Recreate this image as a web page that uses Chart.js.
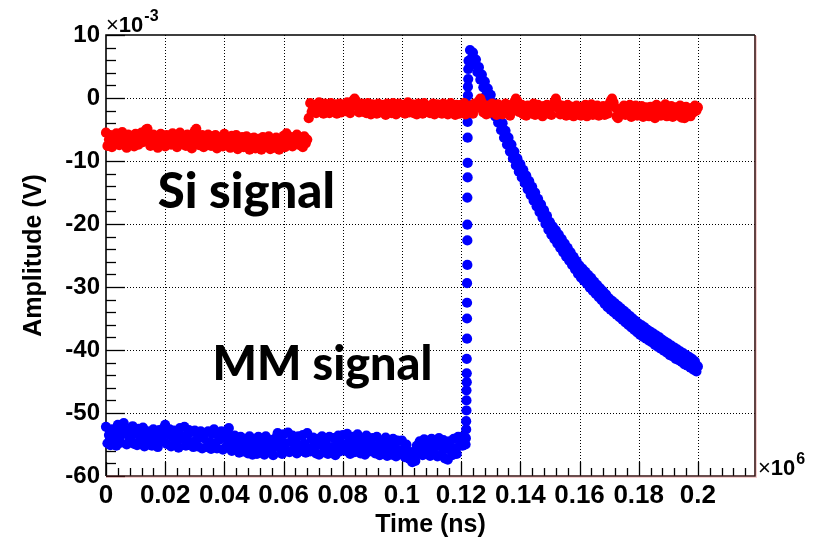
<!DOCTYPE html>
<html><head><meta charset="utf-8">
<script src="https://cdn.jsdelivr.net/npm/chart.js@4.4.1/dist/chart.umd.min.js"></script>
<style>html,body{margin:0;padding:0;background:#fff;}canvas{display:block;}</style>
</head><body>
<canvas id="c" width="817" height="539"></canvas>
<script>
// ---- data (time in units of 10^6 ns, amplitude in units of 10^-3 V) ----
const SAMPLE_STEP = 0.0005;

// Si signal, sampled from t = 0 to 0.2
const siStart = 0;
const siValues = [
-5.5,-7.6,-6.6,-5.9,-7.8,-6.3,-7.1,-5.6,-6.9,-7.5,
-6.1,-5.4,-7.3,-6.7,-7.9,-5.8,-6.4,-7.2,-6.0,-7.7,
-5.7,-6.8,-7.4,-6.2,-5.5,-7.0,-6.5,-5.0,-4.9,-6.3,
-7.6,-6.1,-5.8,-7.2,-6.6,-7.9,-6.0,-5.7,-7.0,-6.4,
-7.7,-5.9,-6.8,-6.2,-7.4,-5.6,-7.1,-6.5,-7.8,-6.0,
-5.5,-7.3,-6.7,-6.1,-7.6,-5.8,-7.0,-6.4,-8.0,-6.9,
-5.2,-4.9,-6.2,-7.5,-6.6,-5.9,-7.8,-6.3,-7.2,-5.8,
-6.8,-7.6,-6.1,-7.0,-5.9,-8.0,-6.5,-7.3,-6.2,-7.7,
-5.7,-6.9,-7.5,-6.3,-7.9,-6.0,-6.7,-7.2,-5.9,-8.1,
-6.6,-7.4,-6.2,-7.8,-6.9,-6.1,-7.5,-8.2,-6.4,-7.0,
-6.3,-8.0,-7.2,-6.5,-7.6,-8.2,-6.2,-7.0,-6.8,-7.7,
-6.1,-8.1,-7.3,-6.6,-7.9,-6.3,-7.1,-8.2,-6.7,-7.5,
-6.0,-7.8,-5.6,-6.9,-7.4,-6.2,-7.7,-6.5,-7.1,-5.8,
-6.8,-7.5,-6.3,-7.8,-6.1,-7.2,-6.6,
-3.2,
-0.8,-2.2,-1.5,-1.1,-2.4,-1.7,-0.7,-2.0,-1.3,-2.5,-0.9,-1.8,-1.2,-2.4,-0.8,-1.6,-2.1,-1.0,-2.5,-1.4,
-0.9,-2.3,-1.6,-1.1,-2.1,-0.7,-1.8,-2.4,-1.2,-0.4,-0.1,-0.5,-1.4,-2.3,-1.7,-0.9,-2.2,-1.3,-2.4,-0.8,
-1.7,-2.6,-1.0,-2.0,-1.4,-2.5,-0.9,-1.8,-2.3,-1.1,-1.6,-2.7,-0.9,-2.0,-1.3,-2.4,-0.8,-1.9,-2.6,-1.2,
-0.9,-2.2,-1.6,-1.1,-2.5,-1.4,-0.7,-2.3,-1.8,-1.0,-2.4,-1.5,-2.6,-0.9,-2.0,-1.3,-2.5,-0.8,-1.7,-2.2,
-1.3,-2.4,-1.8,-0.9,-2.6,-1.5,-1.0,-2.2,-1.7,-2.5,-0.9,-1.9,-1.2,-2.6,-1.6,-0.8,-2.4,-1.4,-2.7,-1.1,
-1.8,-2.5,-1.1,-2.0,-0.8,-2.6,-1.5,-2.3,-1.2,-1.9,-2.5,-0.9,-1.6,-1.3,-0.5,-0.1,-0.7,-2.3,-1.6,-2.6,
-1.2,-2.4,-1.7,-0.9,-2.2,-1.5,-2.7,-1.0,-2.0,-1.4,-2.6,-1.8,-0.9,-2.4,-1.5,-2.8,-1.1,-2.0,-0.6,-0.1,
-0.5,-2.2,-1.6,-1.1,-2.6,-1.9,-2.8,-1.2,-2.0,-1.5,-2.5,-0.9,-2.7,-1.7,-1.1,-2.3,-1.6,-2.9,-1.3,-2.1,
-1.1,-2.5,-1.8,-2.7,-1.3,-0.6,-0.1,-0.8,-1.7,-2.6,-1.2,-2.2,-1.5,-2.8,-1.1,-2.0,-2.7,-1.4,-2.9,-1.8,
-1.2,-2.6,-1.9,-2.8,-1.4,-2.2,-1.1,-2.9,-1.7,-2.4,-1.0,-2.7,-1.6,-2.2,-1.2,-2.8,-1.9,-2.5,-1.3,-2.7,
-1.6,-2.5,-1.0,-0.5,-0.1,-0.7,-1.5,-2.9,-3.2,-2.6,-1.8,-2.3,-1.2,-2.7,-1.6,-2.1,-1.1,-3.0,-1.9,-2.5,
-1.2,-2.8,-1.8,-2.4,-1.3,-3.0,-2.0,-1.5,-2.6,-2.9,-1.4,-2.2,-1.7,-3.2,-1.1,-2.5,-1.9,-2.8,-1.4,-2.3,
-1.0,-2.9,-1.8,-2.4,-1.3,-3.0,-2.1,-1.5,-2.6,-2.8,-1.2,-3.1,-1.9,-3.2,-1.4,-2.5,-2.0,-2.9,-1.6,-2.3,
-1.2,-2.0,-1.5
];

// MM signal: baseline before the pulse, sampled from t = 0
const mmBaseStart = 0;
const mmBaseValues = [
-52.2,-54.8,-53.5,-55.1,-52.6,-54.1,-53.0,-55.2,-51.9,-53.8,-54.7,-52.4,-51.6,-53.3,-55.0,-52.8,-54.4,-53.6,-52.1,-54.9,
-53.2,-55.1,-52.5,-54.2,-53.7,-52.3,-55.3,-53.9,-52.9,-54.6,-53.4,-55.2,-52.6,-54.0,-53.1,-55.4,-52.7,-54.5,-53.6,-52.4,
-51.9,-54.9,-53.4,-52.6,-55.3,-53.8,-52.8,-54.5,-53.2,-55.5,-52.4,-54.1,-53.7,-52.2,-55.2,-53.5,-52.7,-54.6,-53.0,-55.4,
-52.8,-54.3,-55.3,-53.5,-52.9,-55.6,-54.0,-53.2,-55.4,-52.9,-54.6,-55.7,-53.3,-52.6,-54.8,-55.6,-53.6,-54.2,-52.9,-55.8,
-53.0,-55.4,-54.2,-52.4,-53.8,-56.0,-54.7,-53.6,-55.8,-54.3,-56.3,-53.8,-55.1,-56.1,-54.2,-55.5,-56.4,-53.7,-55.0,-56.6,
-54.2,-55.6,-56.5,-53.8,-55.1,-56.3,-54.4,-56.6,-53.7,-55.3,-56.2,-54.3,-55.8,-56.7,-54.1,-55.0,-53.2,-54.6,-55.7,-56.5,
-53.4,-54.8,-55.9,-53.1,-56.2,-54.6,-53.6,-55.8,-54.5,-56.4,-53.7,-55.2,-56.0,-53.5,-54.9,-56.3,-53.2,-55.6,-56.1,-54.2,
-53.9,-55.3,-56.4,-54.1,-56.6,-55.0,-53.7,-56.2,-54.6,-55.8,-56.5,-53.8,-55.4,-56.3,-54.0,-56.7,-55.1,-53.6,-56.1,-54.8,
-53.5,-55.2,-56.0,-53.3,-54.7,-56.5,-55.4,-53.8,-56.2,-54.6,-53.4,-55.9,-56.4,-54.2,-55.5,-56.6,-53.6,-55.0,-56.1,-54.3,
-54.0,-55.6,-56.4,-53.8,-55.2,-56.7,-54.5,-56.5,-55.1,-53.9,-56.8,-54.7,-55.8,-56.6,-54.1,-55.4,-56.9,-54.4,-55.9,-56.5,
-54.4,-55.8,-57.0,-55.0,-56.4,-57.3,-56.2,-57.8,-56.9,-57.6,-55.2,-56.4,-54.5,-55.9,-56.7,-54.2,-55.5,-56.4,-54.6,-56.8,
-54.1,-55.7,-56.5,-54.4,-56.9,-54.0,-55.3,-56.6,-54.3,-57.2,-55.6,-57.4,-54.5,-55.9,-56.7,-54.1,-55.6,-56.5,-53.8,-55.2,
-53.8,-55.2,-54.5,-55.0
];

// MM signal: fast rising edge
const mmRiseTimes = [0.1216,0.1217,0.1217,0.1218,0.1218,0.1218,0.1219,0.1219,0.1219,0.1220,0.1220,0.1220,0.1220,0.1221,0.1221,0.1221,0.1221,0.1222,0.1222,0.1222,0.1222,0.1223,0.1223,0.1223,0.1224,0.1224];
const mmRiseValues = [-54.0,-52.6,-51.3,-49.6,-48.0,-46.4,-45.1,-43.7,-41.4,-38.2,-35.0,-32.5,-29.4,-26.5,-22.6,-20.1,-15.8,-12.6,-10.3,-6.3,-3.8,-1.0,0.4,1.8,3.0,4.6];

// MM signal: peak and slow decay, sampled from t = 0.1225
const mmDecayStart = 0.1225;
const mmDecayValues = [
5.9,7.6,6.3,7.2,5.3,6.1,4.1,4.9,2.9,3.7,
1.7,2.6,0.5,1.5,-0.6,0.5,-1.7,-0.8,-2.9,-1.8,
-3.9,-2.9,-5.1,-4.0,-6.3,-5.2,-7.4,-6.3,-8.5,-7.4,
-9.6,-8.5,-10.7,-9.6,-11.7,-10.5,-12.6,-11.4,-13.5,-12.3,
-14.5,-13.2,-15.4,-14.1,-16.3,-15.0,-17.2,-16.0,-18.1,-16.9,
-19.0,-17.8,-20.0,-18.7,-20.9,-19.7,-21.7,-20.4,-22.4,-21.0,
-23.1,-21.7,-23.8,-22.4,-24.5,-23.1,-25.2,-23.8,-25.8,-24.5,
-26.5,-25.2,-27.2,-25.9,-27.9,-26.6,-28.5,-27.1,-29.0,-27.6,
-29.5,-28.1,-30.1,-28.6,-30.6,-29.2,-31.1,-29.7,-31.6,-30.2,
-32.1,-30.7,-32.7,-31.2,-33.2,-31.8,-33.6,-32.2,-34.0,-32.6,
-34.4,-33.0,-34.8,-33.4,-35.2,-33.8,-35.6,-34.2,-36.0,-34.6,
-36.4,-35.0,-36.8,-35.4,-37.2,-35.8,-37.6,-36.1,-37.9,-36.4,
-38.2,-36.8,-38.5,-37.1,-38.8,-37.4,-39.2,-37.7,-39.5,-38.0,
-39.8,-38.4,-40.1,-38.7,-40.4,-39.0,-40.8,-39.3,-41.0,-39.6,
-41.4,-39.9,-41.6,-40.2,-41.9,-40.5,-42.3,-40.8,-42.5,-41.1,
-42.8,-41.4,-43.1,-41.8,-43.4,-42.6
];

// axes
const xTickValues = [0,0.02,0.04,0.06,0.08,0.1,0.12,0.14,0.16,0.18,0.2];
const xTickLabels = ['0','0.02','0.04','0.06','0.08','0.1','0.12','0.14','0.16','0.18','0.2'];
const yTickValues = [-60,-50,-40,-30,-20,-10,0,10];
const yTickLabels = ['-60','-50','-40','-30','-20','-10','0','10'];
const xMin = 0, xMax = 0.2193, yMin = -60, yMax = 10;
const xTitle = 'Time (ns)';
const yTitle = 'Amplitude (V)';
const xExponent = '6';
const yExponent = '-3';
const annotations = [
  {text:'Si signal', x:0.0175, y:-17.5, width:177},
  {text:'MM signal', x:0.036, y:-44.8, width:220}
];

// ---- build points ----
function uniformSeries(start, values){
  return values.map((v,i)=>({x: +(start + i*SAMPLE_STEP).toFixed(5), y: v}));
}
const siPoints = uniformSeries(siStart, siValues);
const mmPoints = uniformSeries(mmBaseStart, mmBaseValues)
  .concat(mmRiseTimes.map((t,i)=>({x:t, y:mmRiseValues[i]})))
  .concat(uniformSeries(mmDecayStart, mmDecayValues));

const TICK_FONT = 'Liberation Sans, Arial, sans-serif';

const framePlugin = {
  id:'rootFrame',
  beforeDatasetsDraw(chart){
    const {ctx, chartArea:a, scales:{x, y}} = chart;
    ctx.save();
    ctx.strokeStyle = '#000';
    ctx.lineWidth = 1;
    ctx.setLineDash([1,2]);
    xTickValues.forEach(v=>{
      if (v<=xMin) return;
      const px = Math.round(x.getPixelForValue(v))+0.5;
      ctx.beginPath(); ctx.moveTo(px,a.top); ctx.lineTo(px,a.bottom); ctx.stroke();
    });
    yTickValues.forEach(v=>{
      if (v<=yMin || v>=yMax) return;
      const py = Math.round(y.getPixelForValue(v))+0.5;
      ctx.beginPath(); ctx.moveTo(a.left,py); ctx.lineTo(a.right,py); ctx.stroke();
    });
    ctx.setLineDash([]);
    ctx.strokeStyle = '#000';
    ctx.lineWidth = 1.3;
    for (let v=yMin; v<=yMax+1e-9; v+=2){
      const py = Math.round(y.getPixelForValue(v))+0.5;
      const major = Math.abs(v%10)<1e-9;
      ctx.beginPath(); ctx.moveTo(a.left,py); ctx.lineTo(a.left+(major?19:10),py); ctx.stroke();
    }
    for (let i=0; i*0.004<=xMax+1e-9; i++){
      const v = i*0.004;
      const px = Math.round(x.getPixelForValue(v))+0.5;
      const major = i%5===0;
      ctx.beginPath(); ctx.moveTo(px,a.bottom); ctx.lineTo(px,a.bottom-(major?14:8)); ctx.stroke();
    }
    ctx.lineWidth = 1.6;
    ctx.strokeStyle = '#000';
    ctx.beginPath(); ctx.moveTo(a.left, a.bottom); ctx.lineTo(a.left, a.top); ctx.lineTo(a.right, a.top); ctx.stroke();
    ctx.strokeStyle = '#3a1414';
    ctx.beginPath(); ctx.moveTo(a.left, a.bottom); ctx.lineTo(a.right, a.bottom); ctx.lineTo(a.right, a.top); ctx.stroke();
    ctx.strokeStyle = 'rgba(220,90,90,0.3)';
    ctx.lineWidth = 1;
    ctx.beginPath(); ctx.moveTo(a.left, a.bottom+1.5); ctx.lineTo(a.right+1.5, a.bottom+1.5); ctx.lineTo(a.right+1.5, a.top+1); ctx.stroke();
    ctx.restore();
  },
  afterDraw(chart){
    const {ctx, chartArea:a, scales:{x, y}} = chart;
    ctx.save();
    ctx.fillStyle = '#000';
    ctx.font = 'bold 25px ' + TICK_FONT;
    ctx.textAlign = 'center';
    ctx.textBaseline = 'alphabetic';
    ctx.fillText(xTitle, (a.left+a.right)/2, 532);
    ctx.save();
    ctx.translate(41, (a.top+a.bottom)/2);
    ctx.rotate(-Math.PI/2);
    ctx.fillText(yTitle, 0, 0);
    ctx.restore();
    ctx.textAlign = 'left';
    ctx.font = '22px ' + TICK_FONT;
    ctx.fillText('\u00d7', a.left, 32);
    let w = ctx.measureText('\u00d7').width;
    ctx.font = 'bold 22px ' + TICK_FONT;
    ctx.fillText('10', a.left + w, 32);
    w += ctx.measureText('10').width;
    ctx.font = 'bold 16px ' + TICK_FONT;
    ctx.fillText(yExponent, a.left + w + 1, 21);

    ctx.font = '22px ' + TICK_FONT;
    ctx.fillText('\u00d7', a.right + 3, 475);
    w = ctx.measureText('\u00d7').width;
    ctx.font = 'bold 22px ' + TICK_FONT;
    ctx.fillText('10', a.right + 3 + w, 475);
    w += ctx.measureText('10').width;
    ctx.font = 'bold 16px ' + TICK_FONT;
    ctx.fillText(xExponent, a.right + 4 + w, 464);

    annotations.forEach(an=>{
      let size = 42;
      ctx.font = '900 ' + size + 'px Lato, "Open Sans", sans-serif';
      const mw = ctx.measureText(an.text).width;
      size = size * an.width / mw;
      ctx.font = '900 ' + size.toFixed(1) + 'px Lato, "Open Sans", sans-serif';
      ctx.textAlign = 'left';
      ctx.fillText(an.text, x.getPixelForValue(an.x), y.getPixelForValue(an.y));
    });
    ctx.restore();
  }
};

new Chart(document.getElementById('c'), {
  type:'scatter',
  data:{datasets:[
    {label:'Si signal', data:siPoints, backgroundColor:'#ff0000', borderColor:'#ff0000', borderWidth:0, pointRadius:5.1, pointHoverRadius:5.1, order:0, clip:false},
    {label:'MM signal', data:mmPoints, backgroundColor:'#0000ff', borderColor:'#0000ff', borderWidth:0, pointRadius:5.1, pointHoverRadius:5.1, order:1, clip:false}
  ]},
  options:{
    responsive:false, animation:false, devicePixelRatio:1,
    events:[],
    layout:{padding:{top:35, right:62, bottom:0, left:0}},
    plugins:{legend:{display:false}, tooltip:{enabled:false}},
    scales:{
      x:{type:'linear', min:xMin, max:xMax,
        afterFit(s){ s.height = 63; },
        afterBuildTicks(s){ s.ticks = xTickValues.map(v=>({value:v})); },
        grid:{display:false, drawTicks:false}, border:{display:false},
        ticks:{autoSkip:false, maxRotation:0, padding:4, color:'#000',
          font:{family:TICK_FONT, weight:'bold', size:26},
          callback:(v,i)=>xTickLabels[i]}
      },
      y:{type:'linear', min:yMin, max:yMax,
        afterFit(s){ s.width = 106; },
        afterBuildTicks(s){ s.ticks = yTickValues.map(v=>({value:v})); },
        grid:{display:false, drawTicks:false}, border:{display:false},
        ticks:{autoSkip:false, padding:6, color:'#000',
          font:{family:TICK_FONT, weight:'bold', size:24},
          callback:(v,i)=>yTickLabels[i]}
      }
    }
  },
  plugins:[framePlugin]
});
</script>
</body></html>
